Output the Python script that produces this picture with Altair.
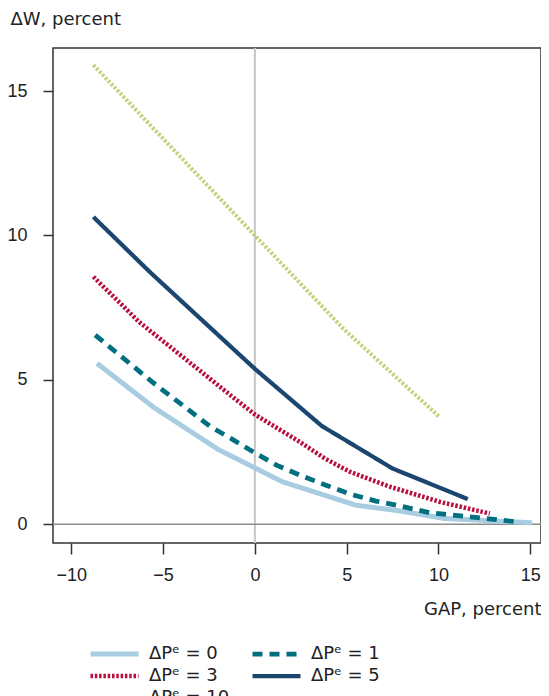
import altair as alt
import pandas as pd

series_labels = ["ΔPᵉ = 0", "ΔPᵉ = 1", "ΔPᵉ = 3", "ΔPᵉ = 5", "ΔPᵉ = 10"]

gap_pe0 = [-8.6, -5.5, -2.0, 1.5, 5.5, 7.9, 10.3, 15.1]
w_pe0 = [5.57, 4.04, 2.59, 1.47, 0.66, 0.46, 0.20, 0.05]

gap_pe1 = [-8.7, -5.6, -4.5, -2.4, -1.2, 0.0, 1.2, 2.45, 3.8, 5.2, 6.6, 8.0, 9.5, 11.2, 12.6, 14.3]
w_pe1 = [6.55, 4.93, 4.39, 3.37, 2.93, 2.47, 2.04, 1.70, 1.37, 1.04, 0.80, 0.62, 0.40, 0.29, 0.20, 0.08]

gap_pe3 = [-8.8, -6.3, -1.1, 0.0, 2.45, 3.8, 5.2, 7.4, 10.1, 12.8]
w_pe3 = [8.57, 7.0, 4.35, 3.8, 2.85, 2.28, 1.81, 1.29, 0.77, 0.37]

gap_pe5 = [-8.8, -5.7, 0.0, 3.65, 7.5, 11.6]
w_pe5 = [10.64, 8.72, 5.38, 3.4, 1.93, 0.87]

gap_pe10 = [-8.8, 0.0, 4.8, 10.05]
w_pe10 = [15.9, 10.0, 6.78, 3.72]

x_ticks = [-10, -5, 0, 5, 10, 15]
y_ticks = [0, 5, 10, 15]

colors = ["#a9cde0", "#006f80", "#b8103e", "#1b4670", "#c4d07a"]
dashes = [[1, 0], [10, 7], [2.5, 1.8], [1, 0], [2.5, 1.8]]
widths = [5, 4, 4, 4, 4]

rows = []
for lab, xs, ys in zip(series_labels,
                       [gap_pe0, gap_pe1, gap_pe3, gap_pe5, gap_pe10],
                       [w_pe0, w_pe1, w_pe3, w_pe5, w_pe10]):
    for i, (a, b) in enumerate(zip(xs, ys)):
        rows.append({"series": lab, "gap": a, "w": b, "ord": i})
df = pd.DataFrame(rows)

FONT = "DejaVu Sans"
TICKFONT = "Liberation Sans"
FS = 18

xscale = alt.Scale(domain=[-11.0, 15.59], nice=False, zero=False)
yscale = alt.Scale(domain=[-0.65, 16.49], nice=False, zero=False)

vrule = alt.Chart().mark_rule(color="#c6c6c6", strokeWidth=2).encode(x=alt.datum(0, scale=xscale))
hrule = alt.Chart().mark_rule(color="#8c8c8c", strokeWidth=1.5).encode(y=alt.datum(0, scale=yscale))

legend = alt.Legend(
    title=None, orient="none", legendX=35, legendY=597, columns=2, direction="horizontal",
    symbolType="stroke", symbolSize=2304, clipHeight=18,
    labelFontSize=FS, labelFont=FONT, labelColor="#222", labelOffset=8,
    columnPadding=20, rowPadding=4,
)

lines = alt.Chart(df).mark_line(strokeCap="butt", strokeJoin="round").encode(
    x=alt.X("gap:Q", scale=xscale,
            axis=alt.Axis(values=x_ticks, title="GAP, percent", titleAlign="right",
                          titleX=488, titleY=71, titleBaseline="alphabetic")),
    y=alt.Y("w:Q", scale=yscale,
            axis=alt.Axis(values=y_ticks, title="ΔW, percent", titleAngle=0, titleAlign="left",
                          titleX=-43, titleY=-24, titleBaseline="alphabetic")),
    color=alt.Color("series:N", sort=series_labels,
                    scale=alt.Scale(domain=series_labels, range=colors), legend=legend),
    strokeDash=alt.StrokeDash("series:N", sort=series_labels,
                              scale=alt.Scale(domain=series_labels, range=dashes), legend=legend),
    strokeWidth=alt.StrokeWidth("series:N", sort=series_labels,
                                scale=alt.Scale(domain=series_labels, range=widths), legend=legend),
    order="ord:Q",
    detail="series:N",
)

chart = alt.layer(vrule, hrule, lines).properties(
    width=488, height=495,
    autosize="none",
    padding={"left": 45, "top": 40, "right": 0, "bottom": 170},
).configure_view(stroke="#333", strokeWidth=1.5).configure_axis(
    domain=False, grid=False, ticks=True, tickColor="#333", tickWidth=1.5,
    labelFont=TICKFONT, labelFontSize=FS, labelColor="#222",
    titleFont=FONT, titleFontSize=FS, titleFontWeight="normal", titleColor="#222",
).configure_axisX(labelPadding=12, tickSize=11).configure_axisY(labelPadding=16, tickSize=10)

chart.save("out.html", embed_options={"renderer": "svg", "actions": False})
